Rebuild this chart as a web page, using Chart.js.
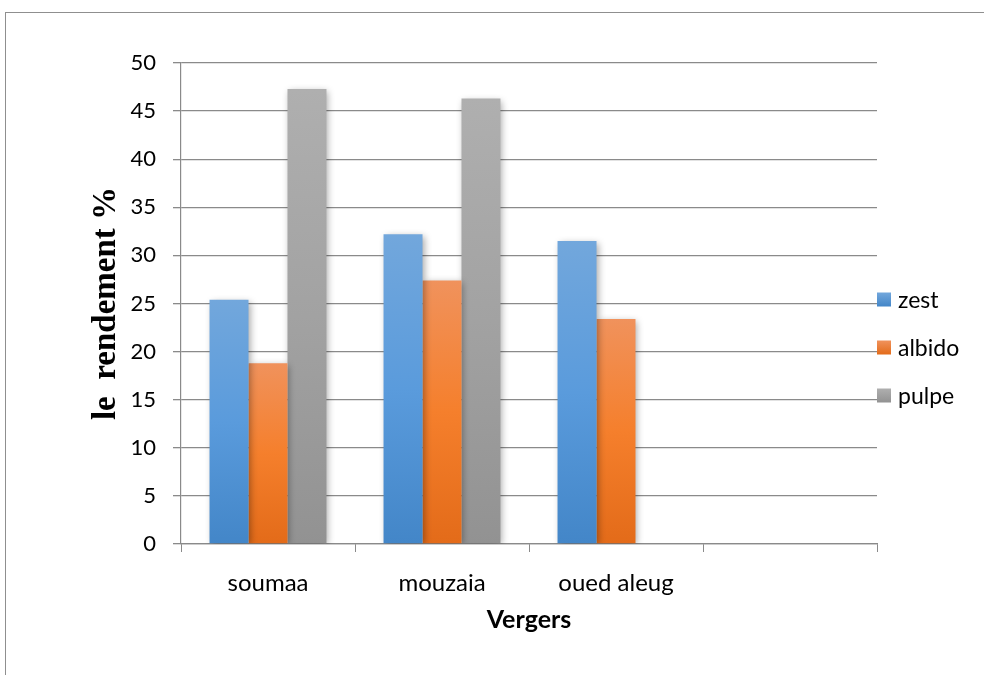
<!DOCTYPE html>
<html>
<head>
<meta charset="utf-8">
<script src="https://cdn.jsdelivr.net/npm/chart.js@4/dist/chart.umd.min.js"></script>
<style>
  html, body { margin: 0; padding: 0; background: #ffffff; }
  #wrap { position: relative; width: 984px; height: 675px; overflow: hidden; }
  #frame { position: absolute; left: 5px; top: 12px; width: 1200px; height: 900px;
           border-left: 1px solid #8f8f8f; border-top: 1px solid #8f8f8f; box-sizing: border-box; }
  canvas { position: absolute; left: 0; top: 0; }
</style>
</head>
<body>
<div id="wrap">
  <div id="frame"></div>
  <canvas id="chart" width="984" height="675"></canvas>
</div>
<script>
// Orchards (x categories) — the last slot is an empty category
const vergers = ['soumaa', 'mouzaia', 'oued aleug', ''];

// Yield (%) per fraction
const zest   = [25.4, 32.2, 31.5, null];
const albido = [18.8, 27.4, 23.4, null];
const pulpe  = [47.3, 46.3, null, null];

const seriesNames = ['zest', 'albido', 'pulpe'];

// y-axis range and step
const yMin = 0;
const yMax = 50;
const yStep = 5;

// vertical colour ramps for each series (top, middle, bottom)
const ramps = [
  ['#72a7dc', '#5a9bdc', '#4386c8'],
  ['#f0925c', '#f57f2c', '#e36b19'],
  ['#afafaf', '#a2a2a2', '#929292']
];

function barFill(i) {
  return function (ctx) {
    const chart = ctx.chart;
    const ys = chart.scales && chart.scales.y;
    if (!chart.chartArea || !ys || ctx.raw == null) return ramps[i][1];
    const top = ys.getPixelForValue(ctx.raw);
    const base = ys.getPixelForValue(0);
    const g = chart.ctx.createLinearGradient(0, top, 0, base);
    g.addColorStop(0, ramps[i][0]);
    g.addColorStop(0.5, ramps[i][1]);
    g.addColorStop(1, ramps[i][2]);
    return g;
  };
}

// soft drop shadow under the bars
const barShadow = {
  id: 'barShadow',
  beforeDatasetsDraw(chart) {
    const c = chart.ctx;
    c.save();
    c.shadowColor = 'rgba(0,0,0,0.35)';
    c.shadowBlur = 7;
    c.shadowOffsetX = 2;
    c.shadowOffsetY = 2;
  },
  afterDatasetsDraw(chart) {
    chart.ctx.restore();
  }
};

// legend to the right of the plot
const sideLegend = {
  id: 'sideLegend',
  afterDraw(chart) {
    const c = chart.ctx;
    const area = chart.chartArea;
    const sets = chart.data.datasets;
    const gap = 48;
    const box = 14;
    const mid = chart.height / 2 + 10;
    const y0 = mid - gap * (sets.length - 1) / 2;
    c.save();
    c.font = '23px Lato';
    c.textBaseline = 'middle';
    c.textAlign = 'left';
    sets.forEach((ds, i) => {
      const cy = y0 + i * gap;
      const g = c.createLinearGradient(0, cy - box / 2, 0, cy + box / 2);
      g.addColorStop(0, ramps[i][0]);
      g.addColorStop(1, ramps[i][2]);
      c.fillStyle = g;
      c.fillRect(area.right, cy - box / 2, box, box);
      c.fillStyle = '#000000';
      c.fillText(ds.label, area.right + box + 7, cy + 1);
    });
    c.restore();
  }
};

const seriesData = [zest, albido, pulpe];

Chart.defaults.font.family = 'Lato';
Chart.defaults.color = '#000000';

new Chart(document.getElementById('chart'), {
  type: 'bar',
  data: {
    labels: vergers,
    datasets: seriesData.map((vals, i) => ({
      label: seriesNames[i],
      data: vals,
      backgroundColor: barFill(i),
      borderWidth: 0,
      barPercentage: 1.0,
      categoryPercentage: 0.672
    }))
  },
  options: {
    responsive: false,
    animation: false,
    layout: { padding: { left: 0, right: 107, top: 63, bottom: 0 } },
    plugins: {
      legend: { display: false },
      tooltip: { enabled: false }
    },
    scales: {
      x: {
        grid: {
          display: true,
          drawOnChartArea: false,
          drawTicks: true,
          tickLength: 8,
          offset: true,
          color: '#8a8a8a',
          lineWidth: 1
        },
        border: { display: true, color: '#8a8a8a', width: 1.2 },
        ticks: { font: { size: 24 }, padding: 17, color: '#000000' },
        title: {
          display: true,
          text: 'Vergers',
          font: { size: 25, weight: 'bold' },
          color: '#000000',
          padding: { top: 0, bottom: 40 }
        },
        afterFit(scale) { scale.height = 131; }
      },
      y: {
        min: yMin,
        max: yMax,
        ticks: { stepSize: yStep, font: { size: 22 }, padding: 17, color: '#000000' },
        grid: {
          color: '#8a8a8a',
          lineWidth: 1.3,
          drawTicks: true,
          tickLength: 8
        },
        border: { display: true, color: '#8a8a8a', width: 1.2 },
        title: {
          display: true,
          text: 'le  rendement %',
          font: { family: 'Liberation Serif', size: 33, weight: 'bold' },
          color: '#000000',
          padding: { top: 87, bottom: 0 }
        },
        afterFit(scale) { scale.width = 181; }
      }
    }
  },
  plugins: [barShadow, sideLegend]
});
</script>
</body>
</html>
